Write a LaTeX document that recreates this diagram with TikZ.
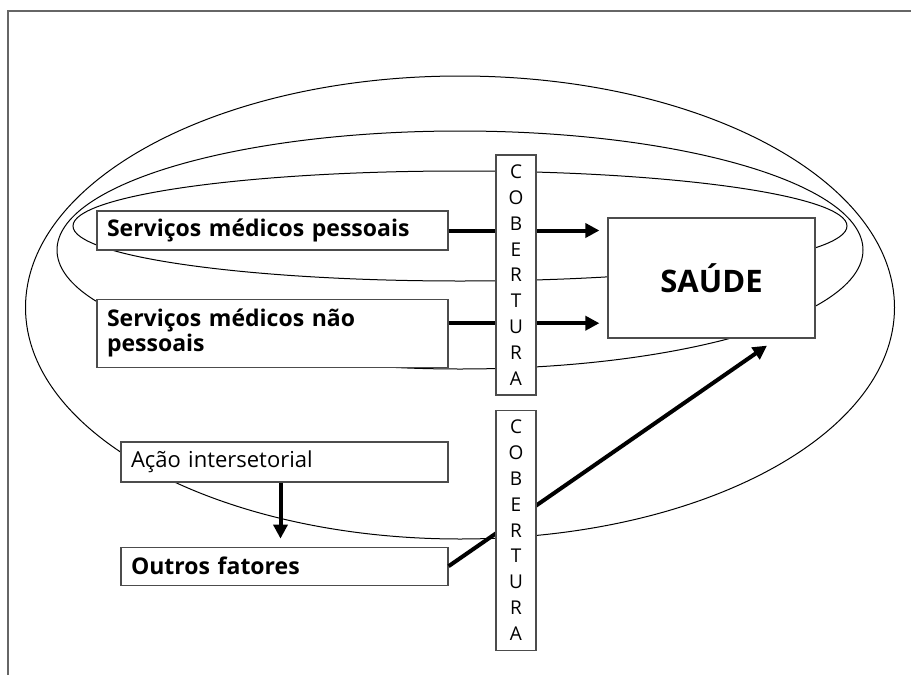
\documentclass[tikz,border=0pt]{standalone}
\usepackage{fontspec}
\setmainfont{Open Sans}
\usetikzlibrary{arrows.meta, positioning}

\newcommand{\cobertura}{C\\O\\B\\E\\R\\T\\U\\R\\A}

\begin{document}
\begin{tikzpicture}[x=0.5pt, y=-0.5pt, >={Triangle[length=7pt, width=7pt]},
  ring/.style={draw, line width=0.5pt},
  flow/.style={->, line width=2pt, shorten >=4pt},
  box/.style={draw=black!70, line width=0.6pt, fill=white, inner xsep=5pt, inner ysep=0pt, align=left, font=\fontsize{11}{12.5}\selectfont},
  cover/.style={draw=black!70, line width=0.6pt, fill=white, minimum width=20pt, minimum height=120pt, inner sep=0pt, align=center, font=\fontsize{9.5}{12.9}\selectfont}
  ]
  \useasboundingbox (0,0) rectangle (911,675);
  % frame
  \draw[black!60, line width=0.8pt] (911,11) -- (8,11) -- (8,675);
  % rings
  \draw[ring] (460,307.5) ellipse [x radius=217.25pt, y radius=115.75pt];
  \draw[ring] (460,250) ellipse [x radius=201.5pt, y radius=59.5pt];
  \draw[ring] (460,226) ellipse [x radius=193.5pt, y radius=27.5pt];

  \node[box, text width=165.5pt, minimum height=19.5pt, font=\fontsize{11.5}{12.5}\selectfont\bfseries] (pessoais) at (272.5,230.5) {Serviços médicos pessoais};
  \node[box, text width=165.5pt, minimum height=34pt, font=\fontsize{11.5}{12.5}\selectfont\bfseries, below=24pt of pessoais] (naopessoais) {Serviços médicos não\\pessoais};
  \node[box, text width=153.5pt, minimum height=20pt] (acao) at (284.5,462) {Ação intersetorial};
  \node[box, text width=153.5pt, minimum height=19pt, font=\fontsize{11.5}{12.5}\selectfont\bfseries, below=32pt of acao] (outros) {Outros fatores};
  \node[box, align=center, inner sep=0pt, minimum width=103.5pt, minimum height=60pt, font=\fontsize{15.5}{19}\selectfont\bfseries] (saude) at (711.5,278) {SAÚDE};

  % arrows into SAUDE
  \draw[flow] (pessoais.east) -- (pessoais.east -| saude.west);
  \draw[flow] ([yshift=5pt]naopessoais.east) -- ([yshift=5pt]naopessoais.east -| saude.west);
  \draw[flow, shorten >=0pt] (outros.east) -- ([shift={(27.75pt,-3.5pt)}]saude.south);
  \draw[flow] ([xshift=-2pt]acao.south) -- ([xshift=-2pt]outros.north);

  % coverage
  \node[cover] (cob1) at (516,275) {\cobertura};
  \node[cover, below=7pt of cob1] (cob2) {\cobertura};
\end{tikzpicture}
\end{document}
